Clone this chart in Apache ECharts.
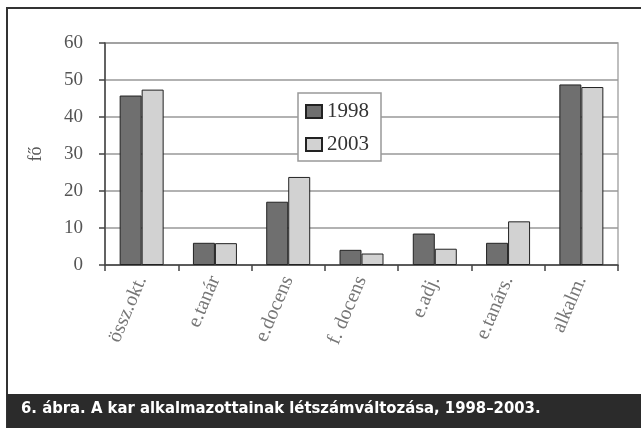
<!DOCTYPE html>
<html><head><meta charset="utf-8">
<script src="https://cdn.jsdelivr.net/npm/echarts@6/dist/echarts.min.js"></script>
<style>html,body{margin:0;padding:0;background:#fff}#c{width:641px;height:428px}</style>
</head><body><div id="c"></div>
<script>
var categories = ['össz.okt.', 'e.tanár', 'e.docens', 'f. docens', 'e.adj.', 'e.tanárs.', 'alkalm.'];
var values1998 = [45.8, 6, 17.1, 4.1, 8.5, 6, 48.8];
var values2003 = [47.4, 5.9, 23.8, 3.1, 4.4, 11.8, 48.1];
var seriesNames = ['1998', '2003'];
var yTicks = [0, 10, 20, 30, 40, 50, 60];
var caption = '6. ábra. A kar alkalmazottainak létszámváltozása, 1998–2003.';

var chart = echarts.init(document.getElementById('c'));
var serif = 'Liberation Serif';
chart.setOption({
  animation: false,
  backgroundColor: '#fff',
  grid: {left: 105, right: 23, top: 43, bottom: 163, show: true, borderColor: '#aaa', borderWidth: 1.5, backgroundColor: 'transparent'},
  legend: {
    data: seriesNames, orient: 'vertical', left: 298, top: 93,
    backgroundColor: '#fff', borderColor: '#999', borderWidth: 1.5,
    padding: [8, 12, 6, 7], itemGap: 12, itemWidth: 16, itemHeight: 13,
    icon: 'rect',
    textStyle: {fontFamily: serif, fontSize: 21, color: '#333'}
  },
  xAxis: {
    type: 'category', data: categories,
    axisLine: {lineStyle: {color: '#444', width: 1.5}},
    axisTick: {show: true, length: 6, lineStyle: {color: '#444', width: 1.5}},
    axisLabel: {rotate: 67, margin: 12, fontFamily: serif, fontSize: 20, color: '#777'}
  },
  yAxis: {
    type: 'value', min: 0, max: 60, interval: 10,
    name: 'fő', nameLocation: 'middle', nameGap: 60, nameRotate: 90,
    nameTextStyle: {fontFamily: serif, fontSize: 18, color: '#555'},
    axisLine: {show: true, lineStyle: {color: '#444', width: 1.5}},
    axisTick: {show: true, length: 6, lineStyle: {color: '#444', width: 1.5}},
    axisLabel: {margin: 22, fontFamily: serif, fontSize: 19, color: '#555',
      formatter: function(v){ return yTicks.indexOf(v) >= 0 ? String(v) : ''; }},
    splitLine: {lineStyle: {color: '#999', width: 1.5}}
  },
  series: [
    {name: seriesNames[0], type: 'bar', data: values1998, barWidth: 22, barGap: '0%',
     itemStyle: {color: '#6f6f6f', borderColor: '#222', borderWidth: 1}},
    {name: seriesNames[1], type: 'bar', data: values2003, barWidth: 22,
     itemStyle: {color: '#d2d2d2', borderColor: '#222', borderWidth: 1}}
  ],
  graphic: [
    {type: 'rect', shape: {x: 7, y: 8, width: 640, height: 430}, style: {fill: 'none', stroke: '#333', lineWidth: 2}, z: 100},
    {type: 'rect', shape: {x: 7, y: 394, width: 640, height: 40}, style: {fill: '#2b2b2b'}, z: 101},
    {type: 'text', left: 21, top: 400, style: {text: caption, fill: '#fff', font: 'bold 16.5px "DejaVu Sans Condensed"'}, z: 102}
  ]
});
</script></body></html>
